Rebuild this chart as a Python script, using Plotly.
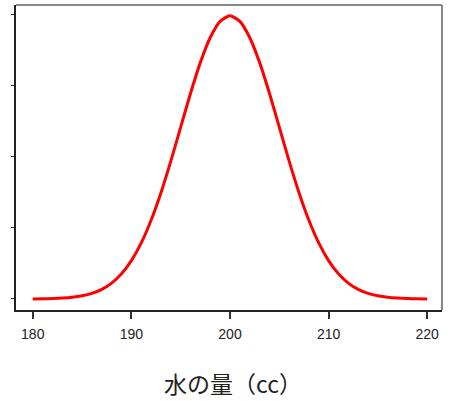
import plotly.graph_objects as go

# Water amount (cc) and density values
water_cc = [180, 181, 182, 183, 184, 185, 186, 187, 188, 189, 190,
            191, 192, 193, 194, 195, 196, 197, 198, 199, 200,
            201, 202, 203, 204, 205, 206, 207, 208, 209, 210,
            211, 212, 213, 214, 215, 216, 217, 218, 219, 220]
density = [0.00003, 0.00006, 0.00012, 0.00025, 0.00048, 0.00089, 0.00158, 0.00271, 0.00448, 0.00709, 0.01080,
           0.01579, 0.02219, 0.02995, 0.03884, 0.04839, 0.05794, 0.06664, 0.07365, 0.07821, 0.07979,
           0.07821, 0.07365, 0.06664, 0.05794, 0.04839, 0.03884, 0.02995, 0.02219, 0.01579, 0.01080,
           0.00709, 0.00448, 0.00271, 0.00158, 0.00089, 0.00048, 0.00025, 0.00012, 0.00006, 0.00003]
x_ticks = [180, 190, 200, 210, 220]
y_ticks = [0, 0.02, 0.04, 0.06, 0.08]
x_title = "水の量（cc）"

fig = go.Figure()
fig.add_trace(go.Scatter(x=water_cc, y=density, mode="lines",
                         line=dict(color="#ff0000", width=3, shape="spline", smoothing=0.6),
                         showlegend=False, hoverinfo="skip"))

fig.update_layout(
    width=451, height=401,
    margin=dict(l=16, r=9, t=5, b=91),
    paper_bgcolor="white", plot_bgcolor="white",
    font=dict(family="Liberation Sans, Arial, sans-serif", color="#222"),
    xaxis=dict(range=[178.3, 221.5], tickvals=x_ticks,
               showgrid=False, zeroline=False, showline=True, linecolor="#222", linewidth=2,
               ticks="outside", ticklen=7, tickwidth=1.5, tickcolor="#333",
               tickfont=dict(size=14, color="#222"), ticklabelstandoff=3),
    yaxis=dict(range=[-0.0031, 0.0828], tickvals=y_ticks, showticklabels=False,
               showgrid=False, zeroline=False, showline=True, linecolor="#222", linewidth=2,
               ticks="outside", ticklen=3, tickwidth=1, tickcolor="#333"),
    shapes=[
        dict(type="line", xref="x domain", yref="y domain", x0=0, x1=1, y0=1, y1=1,
             line=dict(color="#888", width=2)),
        dict(type="line", xref="x domain", yref="y domain", x0=1, x1=1, y0=0, y1=1,
             line=dict(color="#888", width=2)),
    ],
    annotations=[dict(text=x_title, xref="paper", yref="paper", x=0.51, y=-0.239,
                      xanchor="center", yanchor="middle", showarrow=False,
                      font=dict(family="Noto Sans CJK JP", size=23, color="#222"))],
)

fig.write_html("out.html", config={"displayModeBar": False},
               post_script="document.body.style.margin='0';document.body.style.overflow='hidden';")
